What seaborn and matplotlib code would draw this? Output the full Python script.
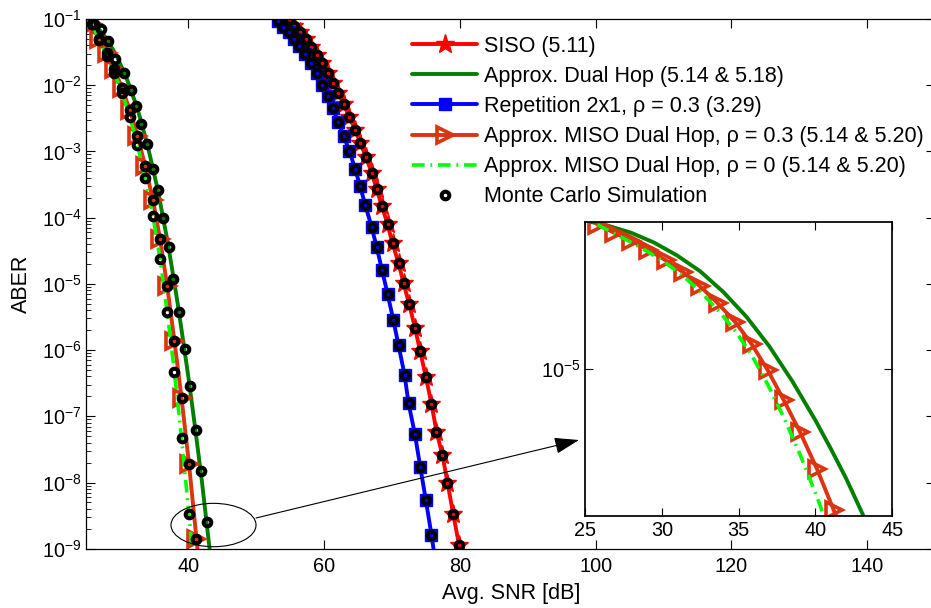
import numpy as np
import matplotlib
matplotlib.use('Agg')
import matplotlib.pyplot as plt
import seaborn as sns
from matplotlib.patches import Ellipse
from matplotlib.ticker import NullLocator

# valores (ABER dado como expoente de 10)
siso_snr = [54.9, 55.63, 56.47, 57.35, 58.09, 58.91, 59.71, 60.53, 61.27, 62.1, 62.89,
            63.72, 64.56, 65.34, 66.18, 67.0, 67.74, 68.53, 69.35, 70.09, 70.97, 71.71,
            72.54, 73.38, 74.16, 75.0, 75.82, 76.56, 77.44, 78.18, 79.01, 79.9]
siso_exp = [-1.02, -1.11, -1.2, -1.31, -1.42, -1.54, -1.67, -1.81, -1.96, -2.12, -2.29,
            -2.48, -2.67, -2.87, -3.09, -3.32, -3.57, -3.83, -4.1, -4.39, -4.69, -4.99,
            -5.31, -5.66, -6.02, -6.41, -6.81, -7.23, -7.59, -8.0, -8.47, -8.95]

rep_snr = [53.18, 54.01, 54.8, 55.63, 56.37, 57.2, 58.09, 58.91, 59.65, 60.53, 61.27,
           62.1, 62.89, 63.72, 64.56, 65.29, 66.07, 67.0, 67.74, 68.53, 69.35, 70.19,
           70.97, 71.85, 72.44, 73.38, 74.16, 75.0, 75.82, 76.12]
rep_exp = [-1.03, -1.12, -1.2, -1.3, -1.41, -1.53, -1.67, -1.82, -2.0, -2.16, -2.35,
           -2.55, -2.77, -2.99, -3.26, -3.52, -3.81, -4.14, -4.44, -4.79, -5.15, -5.54,
           -5.93, -6.37, -6.8, -7.27, -7.76, -8.27, -8.79, -9.0]

dual_snr = [25.3, 26.5, 28.0, 29.5, 31.0, 32.5, 34.0, 35.5, 37.0, 38.5, 40.0, 41.0, 42.0, 43.13]
dual_exp = [-1.0, -1.11, -1.3, -1.57, -1.92, -2.35, -2.91, -3.58, -4.39, -5.34, -6.4, -7.17, -7.98, -9.0]

miso03_snr = [25.8, 26.9, 28.0, 29.1, 30.25, 31.4, 32.5, 33.65, 34.8, 35.85, 36.9,
              37.95, 39.0, 40.1, 41.2, 41.35]
miso03_exp = [-1.08, -1.3, -1.52, -1.76, -2.05, -2.38, -2.76, -3.22, -3.74, -4.33, -5.04,
              -5.86, -6.72, -7.72, -8.85, -9.0]

miso0_snr = [25.8, 26.9, 28.0, 29.1, 30.25, 31.4, 32.5, 33.65, 34.8, 35.85, 36.9,
             37.95, 39.0, 40.1, 41.2]
miso0_exp = [-1.08, -1.32, -1.56, -1.82, -2.12, -2.48, -2.9, -3.4, -3.98, -4.63, -5.43,
             -6.33, -7.33, -8.48, -9.75]

# Monte Carlo do dual hop (pontos proprios)
mc_dual_snr = [26.1, 27.1, 28.1, 29.15, 30.5, 31.5, 32.35, 33.1, 33.9, 34.8, 35.55,
               36.3, 37.1, 37.8, 38.65, 39.5, 40.2, 41.1, 41.8, 42.7]
mc_dual_exp = [-1.08, -1.15, -1.33, -1.6, -1.82, -2.08, -2.31, -2.58, -2.89, -3.26, -3.59,
               -4.01, -4.45, -4.93, -5.43, -5.99, -6.55, -7.21, -7.82, -8.59]

labels = ['SISO (5.11)',
          'Approx. Dual Hop (5.14 & 5.18)',
          'Repetition 2x1, ρ = 0.3 (3.29)',
          'Approx. MISO Dual Hop, ρ = 0.3 (5.14 & 5.20)',
          'Approx. MISO Dual Hop, ρ = 0 (5.14 & 5.20)',
          'Monte Carlo Simulation']

x_ticks = [40, 60, 80, 100, 120, 140]
y_tick_exp = [-9, -8, -7, -6, -5, -4, -3, -2, -1]
inset_x_ticks = [25, 30, 35, 40, 45]


def aber(e):
    return np.power(10.0, e)


sns.set_theme(style='ticks', rc={'text.color': 'black', 'axes.labelcolor': 'black',
                                 'xtick.color': 'black', 'ytick.color': 'black',
                                 'axes.edgecolor': 'black'})
plt.rcParams['font.family'] = ['Liberation Sans', 'DejaVu Sans']
plt.rcParams['mathtext.fontset'] = 'custom'
plt.rcParams['mathtext.rm'] = 'Liberation Sans'
plt.rcParams['mathtext.it'] = 'Liberation Sans:italic'
plt.rcParams['mathtext.bf'] = 'Liberation Sans:bold'

orange = '#DC3310'
lime = '#00FF00'
dashdot = (0, (3.5, 1.6, 0.5, 1.6))

fig = plt.figure(figsize=(9.31, 6.08), dpi=100)
ax = fig.add_axes([0.0929, 0.0975, 0.9114, 0.8713])
ax.set_yscale('log')


def curvas(a, mc=True):
    sns.lineplot(x=dual_snr, y=aber(dual_exp), ax=a, color='green', lw=2.8,
                 sort=False, estimator=None, label=labels[1] if mc else None)
    sns.lineplot(x=miso03_snr, y=aber(miso03_exp), ax=a, color=orange, lw=2.8,
                 marker='>', ms=11, mfc='none', mec=orange, mew=2.6,
                 markevery=slice(0, -1), sort=False, estimator=None,
                 label=labels[3] if mc else None)
    sns.lineplot(x=miso0_snr, y=aber(miso0_exp), ax=a, color=lime, lw=2.6,
                 linestyle=dashdot, sort=False, estimator=None,
                 label=labels[4] if mc else None)


# SISO e repeticao
sns.lineplot(x=siso_snr, y=aber(siso_exp), ax=ax, color='red', lw=2.8, marker='*',
             ms=14, mfc='red', mec='red', mew=1, sort=False, estimator=None, label=labels[0])
curvas(ax)
sns.lineplot(x=rep_snr, y=aber(rep_exp), ax=ax, color='blue', lw=2.8, marker='s',
             ms=8, mfc='blue', mec='blue', mew=1, markevery=slice(0, -1),
             sort=False, estimator=None, label=labels[2])

# Monte Carlo
mc_snr = siso_snr + rep_snr[:-1] + miso03_snr[:-1] + miso0_snr[:-1] + mc_dual_snr
mc_exp = siso_exp + rep_exp[:-1] + miso03_exp[:-1] + miso0_exp[:-1] + mc_dual_exp
sns.lineplot(x=mc_snr, y=aber(mc_exp), ax=ax, linestyle='', marker='o', ms=5.5,
             mfc='none', mec='black', mew=2.9, color='black', sort=False,
             estimator=None, label=labels[5], zorder=5)

ax.set_xlim(25, 150)
ax.set_ylim(1e-9, 1e-1)
ax.set_xticks(x_ticks)
ax.set_yticks(aber(y_tick_exp))
ax.set_xlabel('Avg. SNR [dB]', fontsize=15.5, labelpad=5)
ax.set_ylabel('ABER', fontsize=15.5, labelpad=7)
ax.tick_params(which='both', direction='in', top=True, right=True, labelsize=14.3)
ax.tick_params(axis='x', pad=6)
ax.tick_params(which='major', length=6.5, width=0.8)
ax.tick_params(which='minor', length=3.5, width=0.6, right=False)
for s in ax.spines.values():
    s.set_linewidth(0.9)

h, l = ax.get_legend_handles_labels()
order = [l.index(t) for t in labels]
ax.legend([h[i] for i in order], labels, loc='upper left', bbox_to_anchor=(0.384, 0.968),
          frameon=False, fontsize=15.5, handlelength=3.0, handletextpad=0.35,
          labelspacing=0.42, borderaxespad=0, borderpad=0)

# elipse e seta para o zoom
ax.add_patch(Ellipse((0.1497, 0.0447), 0.1002, 0.0819, transform=ax.transAxes,
                     fill=False, ec='black', lw=0.8, zorder=6))
ax.annotate('', xy=(0.5804, 0.2052), xytext=(0.1998, 0.058), xycoords='axes fraction',
            arrowprops=dict(arrowstyle='-|>,head_length=0.9,head_width=0.3', color='black',
                            lw=0.8, mutation_scale=17, shrinkA=0, shrinkB=0), zorder=6)

# inset
axi = fig.add_axes([0.6284, 0.1518, 0.3298, 0.4836])
axi.set_yscale('log')
curvas(axi, mc=False)
axi.set_xlim(25, 45)
axi.set_ylim(1e-9, 1e-1)
axi.set_xticks(inset_x_ticks)
axi.set_yticks([1e-5])
axi.yaxis.set_minor_locator(NullLocator())
axi.set_xlabel('')
axi.set_ylabel('')
axi.tick_params(which='both', direction='in', top=True, right=True, labelsize=14.3,
                length=6, width=0.8)
axi.set_facecolor('white')
leg = axi.get_legend()
if leg is not None:
    leg.remove()

fig.savefig('out.png', dpi=100, facecolor='white')
